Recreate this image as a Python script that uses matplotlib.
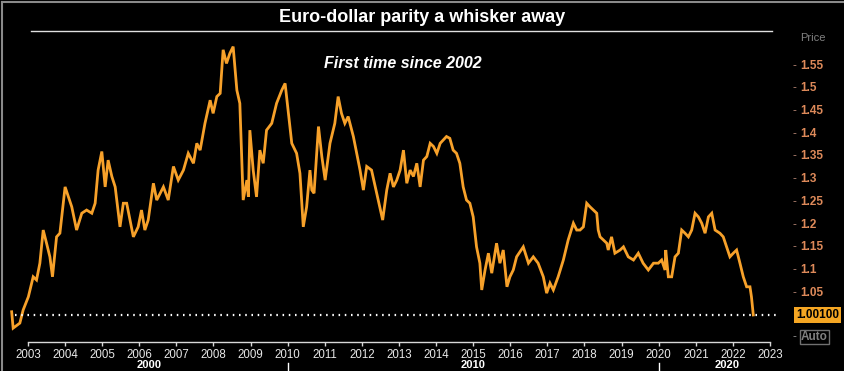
import matplotlib
matplotlib.use("Agg")
import matplotlib.pyplot as plt
from matplotlib.lines import Line2D
from matplotlib.transforms import blended_transform_factory

plt.rcParams['font.family'] = ['Liberation Sans', 'DejaVu Sans']

# EUR/USD (decimal year, price)
years = [
    2002.56, 2002.60, 2002.78, 2002.87, 2003.01, 2003.14, 2003.23, 2003.32, 2003.41, 2003.50,
    2003.59, 2003.66, 2003.77, 2003.86, 2004.00, 2004.09, 2004.18, 2004.31, 2004.45, 2004.58,
    2004.72, 2004.81, 2004.89, 2004.99, 2005.08, 2005.16, 2005.26, 2005.35, 2005.48, 2005.57,
    2005.66, 2005.75, 2005.84, 2005.97, 2006.06, 2006.15, 2006.24, 2006.38, 2006.47, 2006.65,
    2006.78, 2006.92, 2007.05, 2007.19, 2007.32, 2007.46, 2007.55, 2007.64, 2007.77, 2007.91,
    2007.99, 2008.09, 2008.18, 2008.26, 2008.35, 2008.44, 2008.53, 2008.63, 2008.71, 2008.80,
    2008.90, 2008.94, 2008.98, 2009.07, 2009.16, 2009.25, 2009.34, 2009.43, 2009.57, 2009.70,
    2009.84, 2009.93, 2010.02, 2010.11, 2010.24, 2010.33, 2010.42, 2010.51, 2010.60, 2010.65,
    2010.71, 2010.83, 2010.92, 2011.01, 2011.14, 2011.27, 2011.36, 2011.45, 2011.54, 2011.63,
    2011.77, 2011.86, 2011.95, 2012.04, 2012.13, 2012.26, 2012.40, 2012.56, 2012.67, 2012.76,
    2012.85, 2012.94, 2013.03, 2013.12, 2013.21, 2013.30, 2013.39, 2013.48, 2013.57, 2013.66,
    2013.75, 2013.84, 2013.93, 2014.02, 2014.11, 2014.19, 2014.28, 2014.37, 2014.46, 2014.55,
    2014.64, 2014.73, 2014.82, 2014.91, 2015.00, 2015.09, 2015.18, 2015.23, 2015.32, 2015.41,
    2015.50, 2015.63, 2015.72, 2015.81, 2015.91, 2015.99, 2016.08, 2016.17, 2016.35, 2016.49,
    2016.62, 2016.75, 2016.89, 2016.98, 2017.07, 2017.16, 2017.29, 2017.43, 2017.56, 2017.70,
    2017.79, 2017.88, 2017.97, 2018.06, 2018.15, 2018.24, 2018.33, 2018.37, 2018.42, 2018.51,
    2018.60, 2018.64, 2018.73, 2018.82, 2018.96, 2019.05, 2019.18, 2019.32, 2019.45, 2019.58,
    2019.72, 2019.86, 2019.99, 2020.08, 2020.17, 2020.19, 2020.26, 2020.35, 2020.44, 2020.53,
    2020.62, 2020.71, 2020.80, 2020.89, 2020.98, 2021.07, 2021.16, 2021.25, 2021.34, 2021.43,
    2021.52, 2021.65, 2021.74, 2021.83, 2021.92, 2022.01, 2022.10, 2022.19, 2022.28, 2022.37,
    2022.46, 2022.50, 2022.55,
]
prices = [
    1.008, 0.972, 0.983, 1.012, 1.041, 1.085, 1.078, 1.115, 1.188, 1.159,
    1.129, 1.085, 1.173, 1.181, 1.283, 1.261, 1.239, 1.188, 1.225, 1.232,
    1.225, 1.247, 1.320, 1.361, 1.283, 1.342, 1.306, 1.283, 1.195, 1.247,
    1.247, 1.210, 1.173, 1.195, 1.232, 1.188, 1.210, 1.291, 1.254, 1.283,
    1.254, 1.328, 1.298, 1.320, 1.357, 1.335, 1.379, 1.364, 1.423, 1.474,
    1.445, 1.482, 1.489, 1.585, 1.555, 1.577, 1.592, 1.496, 1.467, 1.254,
    1.298, 1.261, 1.408, 1.320, 1.261, 1.364, 1.335, 1.408, 1.423, 1.467,
    1.496, 1.511, 1.445, 1.379, 1.357, 1.313, 1.195, 1.239, 1.320, 1.276,
    1.269, 1.416, 1.350, 1.298, 1.379, 1.423, 1.482, 1.445, 1.423, 1.438,
    1.394, 1.357, 1.320, 1.276, 1.328, 1.320, 1.269, 1.210, 1.276, 1.313,
    1.283, 1.298, 1.320, 1.364, 1.291, 1.320, 1.306, 1.335, 1.283, 1.342,
    1.350, 1.379, 1.372, 1.357, 1.379, 1.386, 1.394, 1.390, 1.364, 1.357,
    1.335, 1.283, 1.254, 1.247, 1.217, 1.151, 1.115, 1.056, 1.100, 1.137,
    1.093, 1.159, 1.115, 1.144, 1.063, 1.085, 1.100, 1.129, 1.151, 1.115,
    1.129, 1.115, 1.085, 1.049, 1.071, 1.056, 1.085, 1.122, 1.166, 1.203,
    1.188, 1.188, 1.195, 1.247, 1.239, 1.232, 1.225, 1.188, 1.173, 1.166,
    1.159, 1.144, 1.173, 1.137, 1.144, 1.151, 1.129, 1.122, 1.137, 1.115,
    1.100, 1.115, 1.115, 1.122, 1.100, 1.144, 1.085, 1.085, 1.129, 1.137,
    1.188, 1.181, 1.173, 1.188, 1.225, 1.217, 1.203, 1.181, 1.217, 1.225,
    1.188, 1.181, 1.173, 1.151, 1.129, 1.137, 1.144, 1.115, 1.085, 1.063,
    1.063, 1.041, 1.001,
]
last_price = "1.00100"
parity_level = 1.001
y_ticks = [1.05, 1.1, 1.15, 1.2, 1.25, 1.3, 1.35, 1.4, 1.45, 1.5, 1.55]
x_ticks = list(range(2003, 2024))
decades = ["2000", "2010", "2020"]
decade_pos = [2006.26, 2015.0, 2021.84]

W, H = 845, 371
orange = '#f7a12a'
tick_col = '#de8a5a'

fig = plt.figure(figsize=(W / 100, H / 100), dpi=100, facecolor='black')
ax = fig.add_axes([10 / W, (H - 342) / H, 762 / W, 310 / H])
ax.set_facecolor('black')
for s in ax.spines.values():
    s.set_visible(False)

ax.plot(years, prices, color=orange, lw=2.0, solid_joinstyle='miter')
ax.set_xlim(2002.515, 2023.054)
ax.set_ylim(0.9414, 1.6242)

# dotted parity line
ax.axhline(parity_level, xmin=0.007, xmax=1.008, color='white', lw=1.6,
           linestyle=(0, (0.7, 2.1)), clip_on=False)

# bottom axis
ax.plot([2003, 2023], [0.9414, 0.9414], color='#d8d8d8', lw=1, clip_on=False)
ax.set_xticks(x_ticks)
ax.set_xticklabels([str(y) for y in x_ticks])
ax.tick_params(axis='x', length=3, width=1, color='#d8d8d8', labelcolor='#e8e8e8',
               labelsize=8.3, pad=2)
ax.set_yticks([])

# right price scale
rt = blended_transform_factory(fig.transFigure, ax.transData)
for v in y_ticks:
    ax.text(793 / W, v, '-', transform=rt, color='#b08070', fontsize=8.5,
            va='center', ha='left')
    ax.text(800 / W, v, ('%g' % v), transform=rt, color=tick_col, fontsize=8.5,
            fontweight='bold', va='center', ha='left')
ax.text(796 / W, parity_level, last_price, transform=rt, color='black', fontsize=8.5,
        fontweight='bold', va='center', ha='left',
        bbox=dict(boxstyle='square,pad=0.2', facecolor='#f5a623', edgecolor='none'))
ax.text(793 / W, 0.953, '-', transform=rt, color='#909090', fontsize=8.5, va='center')
ax.text(801 / W, 0.953, 'Auto', transform=rt, color='#808080', fontsize=8.5,
        fontweight='bold', va='center', ha='left',
        bbox=dict(boxstyle='square,pad=0.1', facecolor='none', edgecolor='#707070', lw=1))
fig.text(800 / W, 1 - 38 / H, 'Price', color='#808080', fontsize=8, va='center', ha='left')

# decade labels under the years
bt = blended_transform_factory(ax.transData, fig.transFigure)
for lab, pos in zip(decades, decade_pos):
    ax.text(pos, 1 - 360 / H, lab, transform=bt, color='white', fontsize=8,
            fontweight='bold', ha='center', va='top', clip_on=False)
for d in [2010, 2020]:
    ax.plot([d, d], [1 - 363 / H, 0], transform=bt, color='white', lw=1, clip_on=False)

# titles
fig.text(0.5, 1 - 17 / H, 'Euro-dollar parity a whisker away', color='white',
         fontsize=13, fontweight='bold', ha='center', va='center')
fig.add_artist(Line2D([31 / W, 772 / W], [1 - 31 / H, 1 - 31 / H], color='#e0e0e0', lw=1))
fig.text(403 / W, 1 - 63 / H, 'First time since 2002', color='white', fontsize=11.5,
         fontweight='bold', fontstyle='italic', ha='center', va='center')

# window frame
fig.add_artist(Line2D([2.5 / W, 2.5 / W], [0, 1 - 2 / H], color='#8a8a8a', lw=1.5))
fig.add_artist(Line2D([2.5 / W, 1], [1 - 2 / H, 1 - 2 / H], color='#8a8a8a', lw=1.5))

fig.savefig('out.png', dpi=100, facecolor='black')
